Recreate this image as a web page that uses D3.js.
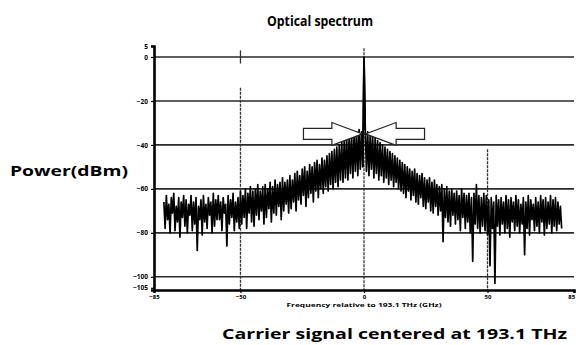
<!DOCTYPE html>
<html>
<head>
<meta charset="utf-8">
<script src="https://cdn.jsdelivr.net/npm/d3@7/dist/d3.min.js"></script>
<style>
  html, body { margin: 0; padding: 0; background: #fff; }
  svg { display: block; }
  text { font-family: "Open Sans", "Noto Sans", sans-serif; font-weight: 700; fill: #000; }
</style>
</head>
<body>
<svg id="chart" width="576" height="345"></svg>
<script>
// ---- data ----
const freqStart = -81;  // GHz, first sample
const freqStep = 0.5;   // GHz between samples
const powerDbm = [
  // -81 .. -50.5
  -66, -78, -63, -74, -67, -80, -64, -71, -62, -79, -68, -75, -64, -82, -66, -73, -63, -77, -65, -80,
  -67, -72, -63, -79, -66, -76, -64, -88, -68, -74, -65, -81, -63, -75, -67, -78, -64, -72, -66, -80,
  -62, -77, -65, -74, -63, -74, -66, -79, -64, -71, -67, -86, -63, -76, -65, -73, -62, -79, -66, -75,
  -64, -78,
  // -50 .. -30.5
  -61, -76, -63, -73, -60, -78, -62, -71, -59, -75, -61, -77, -60, -72, -58, -74, -61, -70, -59, -76,
  -58, -73, -60, -69, -57, -75, -59, -71, -56, -72, -58, -68, -57, -74, -55, -70, -57, -67, -56, -71,
  // -30 .. -15.5
  -54, -69, -56, -66, -53, -70, -52, -65, -54, -67, -51, -63, -50, -68, -52, -64, -49, -62, -50, -66,
  -48, -61, -47, -64, -49, -60, -46, -62, -47, -59,
  // -15 .. -0.5
  -45, -61, -44, -58, -43, -60, -42, -57, -41, -59, -40, -56, -39, -57, -38, -55, -37, -56, -36, -53,
  -36, -55, -35, -52, -34, -54, -33, -51, -34, -50,
  // 0 (carrier)
  0,
  // 0.5 .. 15
  -33, -52, -34, -54, -35, -51, -36, -55, -37, -53, -38, -56, -39, -54, -40, -57, -41, -55, -42, -58,
  -43, -56, -44, -59, -45, -57, -46, -60, -47, -61,
  // 15.5 .. 30
  -48, -62, -49, -64, -50, -61, -51, -65, -52, -63, -51, -66, -53, -67, -54, -64, -53, -68, -55, -69,
  -56, -66, -55, -70, -57, -71, -56, -68, -58, -72,
  // 30.5 .. 50
  -59, -70, -58, -84, -60, -73, -59, -75, -61, -77, -60, -72, -62, -76, -61, -74, -63, -79, -60, -73,
  -62, -78, -63, -75, -62, -80, -64, -93, -62, -76, -58, -78, -63, -80, -64, -77, -62, -79, -63, -81,
  // 50.5 .. 80
  -65, -95, -64, -78, -66, -103, -63, -77, -65, -81, -64, -76, -66, -80, -63, -78, -65, -82, -64, -75,
  -66, -79, -63, -77, -65, -80, -67, -76, -64, -90, -66, -78, -63, -81, -65, -74, -67, -79, -64, -77,
  -66, -80, -63, -75, -65, -81, -64, -78, -66, -76, -63, -80, -65, -77, -64, -79, -66, -76, -68, -78
];
const xDomain = [-85, 85];
const yDomain = [-106, 5];
const xTicks = [-85, -50, 0, 50, 85];
const yTicks = [5, 0, -20, -40, -60, -80, -100, -105];
const hGrid = [0, -20, -40, -60, -80, -100];
const vGrid = [-50, 0, 50];
const vGridTop = [-14, 4, -42];
const title = "Optical spectrum";
const yTitle = "Power(dBm)";
const xTitle = "Frequency relative to 193.1 THz (GHz)";
const caption = "Carrier signal centered at 193.1 THz";
// arrow annotation (data units): tip, head base, tail, centre level, head half-height, body half-height
const arrowTip = 0.6, arrowHead = 13, arrowTail = 24.5, arrowLevel = -35, arrowHeadH = 5.2, arrowBodyH = 2.5;

// ---- drawing ----
const svg = d3.select("#chart");
const x = d3.scaleLinear().domain(xDomain).range([154, 574]);
const y = d3.scaleLinear().domain(yDomain).range([290, 46]);

const data = powerDbm.map((v, i) => ({ f: freqStart + i * freqStep, p: v }));

// horizontal grid
svg.append("g").selectAll("line").data(hGrid).join("line")
  .attr("x1", x(xDomain[0])).attr("x2", x(xDomain[1]))
  .attr("y1", d => y(d)).attr("y2", d => y(d))
  .attr("stroke", "#2a2a2a").attr("stroke-width", 1.6);

// vertical grid (dashed)
svg.append("g").selectAll("line").data(vGrid).join("line")
  .attr("x1", d => x(d)).attr("x2", d => x(d))
  .attr("y1", (d, i) => y(vGridTop[i])).attr("y2", y(yDomain[0]))
  .attr("stroke", "#333").attr("stroke-width", 1.3)
  .attr("stroke-dasharray", "3,1");

// small tick at 0 dBm level for -50
svg.append("line")
  .attr("x1", x(-50)).attr("x2", x(-50))
  .attr("y1", y(3)).attr("y2", y(-3))
  .attr("stroke", "#333").attr("stroke-width", 1.3);

// spectrum trace
svg.append("path").datum(data)
  .attr("d", d3.line().x(d => x(d.f)).y(d => y(d.p)))
  .attr("fill", "none").attr("stroke", "#000").attr("stroke-width", 1.7)
  .attr("stroke-linejoin", "round");

// arrows
function arrow(sign) {
  const pts = [
    [x(sign * arrowTail), y(arrowLevel + arrowBodyH)],
    [x(sign * arrowHead), y(arrowLevel + arrowBodyH)],
    [x(sign * arrowHead), y(arrowLevel + arrowHeadH)],
    [x(sign * arrowTip), y(arrowLevel)],
    [x(sign * arrowHead), y(arrowLevel - arrowHeadH)],
    [x(sign * arrowHead), y(arrowLevel - arrowBodyH)],
    [x(sign * arrowTail), y(arrowLevel - arrowBodyH)]
  ];
  svg.append("polygon")
    .attr("points", pts.map(p => p.join(",")).join(" "))
    .attr("fill", "#fff").attr("stroke", "#222").attr("stroke-width", 1.2);
}
arrow(-1); arrow(1);
// redraw centre spike above arrows
svg.append("path").datum(data.filter(d => Math.abs(d.f) <= 0.5))
  .attr("d", d3.line().x(d => x(d.f)).y(d => y(d.p)))
  .attr("fill", "none").attr("stroke", "#000").attr("stroke-width", 1.8);

// axes
const xAxis = d3.axisBottom(x).tickValues(xTicks).tickSize(3).tickPadding(1).tickFormat(d3.format("d"));
const gx = svg.append("g").attr("transform", `translate(0,${y(yDomain[0])})`).call(xAxis);
gx.select(".domain").attr("stroke-width", 2.6);
gx.selectAll(".tick line").attr("stroke-width", 1.2);
gx.selectAll("text").style("font-size", "6px").attr("dy", "0.75em");
gx.selectAll(".tick").filter(d => d === xDomain[1]).select("text").attr("text-anchor", "end").attr("dx", "0.1em");

const yAxis = d3.axisLeft(y).tickValues(yTicks).tickSize(3).tickFormat(d3.format("d"));
const gy = svg.append("g").attr("transform", `translate(${x(xDomain[0])},0)`).call(yAxis);
gy.select(".domain").attr("stroke-width", 2.6);
gy.selectAll(".tick line").attr("stroke-width", 1.2);
gy.selectAll("text").style("font-size", "6.5px");

// titles
svg.append("text").attr("x", 320).attr("y", 26).attr("text-anchor", "middle")
  .style("font-size", "15px").attr("textLength", 106).attr("lengthAdjust", "spacingAndGlyphs").text(title);
svg.append("text").attr("x", 10).attr("y", 176)
  .style("font-size", "15px").attr("textLength", 118).attr("lengthAdjust", "spacingAndGlyphs").text(yTitle);
svg.append("text").attr("x", 364).attr("y", 307).attr("text-anchor", "middle")
  .style("font-size", "5.5px").attr("textLength", 155).attr("lengthAdjust", "spacingAndGlyphs").text(xTitle);
svg.append("text").attr("x", 222).attr("y", 339)
  .style("font-size", "15px").attr("textLength", 345).attr("lengthAdjust", "spacingAndGlyphs").text(caption);
</script>
</body>
</html>
